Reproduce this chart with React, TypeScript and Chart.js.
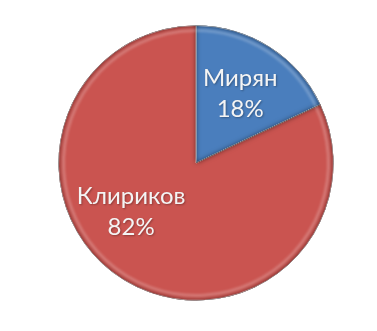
import React, { useEffect, useRef } from "react";
import { Chart, registerables } from "chart.js";
Chart.register(...registerables);

const categories = ["Мирян", "Клириков"];
const values = [18, 82];
const percentLabels = ["18%", "82%"];
const colors = ["#4A7EBD", "#CA5450"];

const bevelPlugin = {
  id: "bevel",
  afterDatasetsDraw(chart: any) {
    const ctx = chart.ctx as CanvasRenderingContext2D;
    const meta = chart.getDatasetMeta(0);
    meta.data.forEach((arc: any) => {
      const { x, y, startAngle, endAngle, outerRadius } = arc.getProps(
        ["x", "y", "startAngle", "endAngle", "outerRadius"],
        true
      );
      const slice = new Path2D();
      slice.moveTo(x, y);
      slice.arc(x, y, outerRadius, startAngle, endAngle);
      slice.closePath();
      ctx.save();
      ctx.clip(slice);
      const hole = new Path2D();
      hole.rect(-2000, -2000, 5000, 5000);
      hole.addPath(slice);
      ctx.shadowColor = "rgba(0,0,0,0.55)";
      ctx.shadowBlur = 5;
      ctx.fillStyle = "rgba(0,0,0,1)";
      ctx.fill(hole, "evenodd");
      ctx.shadowBlur = 0;
      ctx.shadowColor = "transparent";
      ctx.beginPath();
      ctx.arc(x, y, outerRadius - 5, startAngle, endAngle);
      ctx.strokeStyle = "rgba(255,255,255,0.22)";
      ctx.lineWidth = 3;
      ctx.filter = "blur(1px)";
      ctx.stroke();
      ctx.filter = "none";
      ctx.restore();
    });
  },
};

const labelPlugin = {
  id: "sliceLabels",
  afterDatasetsDraw(chart: any, _args: any, opts: any) {
    const ctx = chart.ctx as CanvasRenderingContext2D;
    const meta = chart.getDatasetMeta(0);
    meta.data.forEach((arc: any, i: number) => {
      const { x, y, startAngle, endAngle, outerRadius } = arc.getProps(
        ["x", "y", "startAngle", "endAngle", "outerRadius"],
        true
      );
      const p = opts.positions[i];
      const a = startAngle + (endAngle - startAngle) * p.angleFrac;
      const r = outerRadius * p.radiusFrac;
      const cx = x + Math.cos(a) * r;
      const cy = y + Math.sin(a) * r;
      ctx.save();
      ctx.font = opts.font;
      ctx.fillStyle = opts.color;
      ctx.textAlign = "center";
      ctx.textBaseline = "middle";
      ctx.shadowColor = "rgba(0,0,0,0.3)";
      ctx.shadowBlur = 2;
      ctx.shadowOffsetX = 1;
      ctx.shadowOffsetY = 1;
      ctx.fillText(categories[i], cx, cy - opts.lineGap / 2);
      ctx.fillText(percentLabels[i], cx, cy + opts.lineGap / 2);
      ctx.restore();
    });
  },
};

export default function App() {
  const ref = useRef<HTMLCanvasElement>(null);
  useEffect(() => {
    if (!ref.current) return;
    const chart = new Chart(ref.current, {
      type: "pie",
      data: {
        labels: categories,
        datasets: [
          {
            data: values,
            backgroundColor: colors,
            borderColor: "rgba(255,255,255,0.7)",
            borderWidth: 1,
          },
        ],
      },
      options: {
        animation: false,
        responsive: true,
        maintainAspectRatio: false,
        layout: { padding: { left: 58, right: 43, top: 25, bottom: 30 } },
        plugins: {
          legend: { display: false },
          tooltip: { enabled: false },
          sliceLabels: {
            positions: [
              { angleFrac: 0.5, radiusFrac: 0.6 },
              { angleFrac: 0.57, radiusFrac: 0.59 },
            ],
            font: "24px Lato, 'Open Sans', sans-serif",
            color: "#F4F4F4",
            lineGap: 31,
          },
        } as any,
      },
      plugins: [bevelPlugin, labelPlugin],
    });
    return () => chart.destroy();
  }, []);
  return (
    <div
      style={{
        position: "absolute",
        left: 0,
        top: 0,
        width: 377,
        height: 331,
        background: "#ffffff",
      }}
    >
      <canvas ref={ref} />
    </div>
  );
}
